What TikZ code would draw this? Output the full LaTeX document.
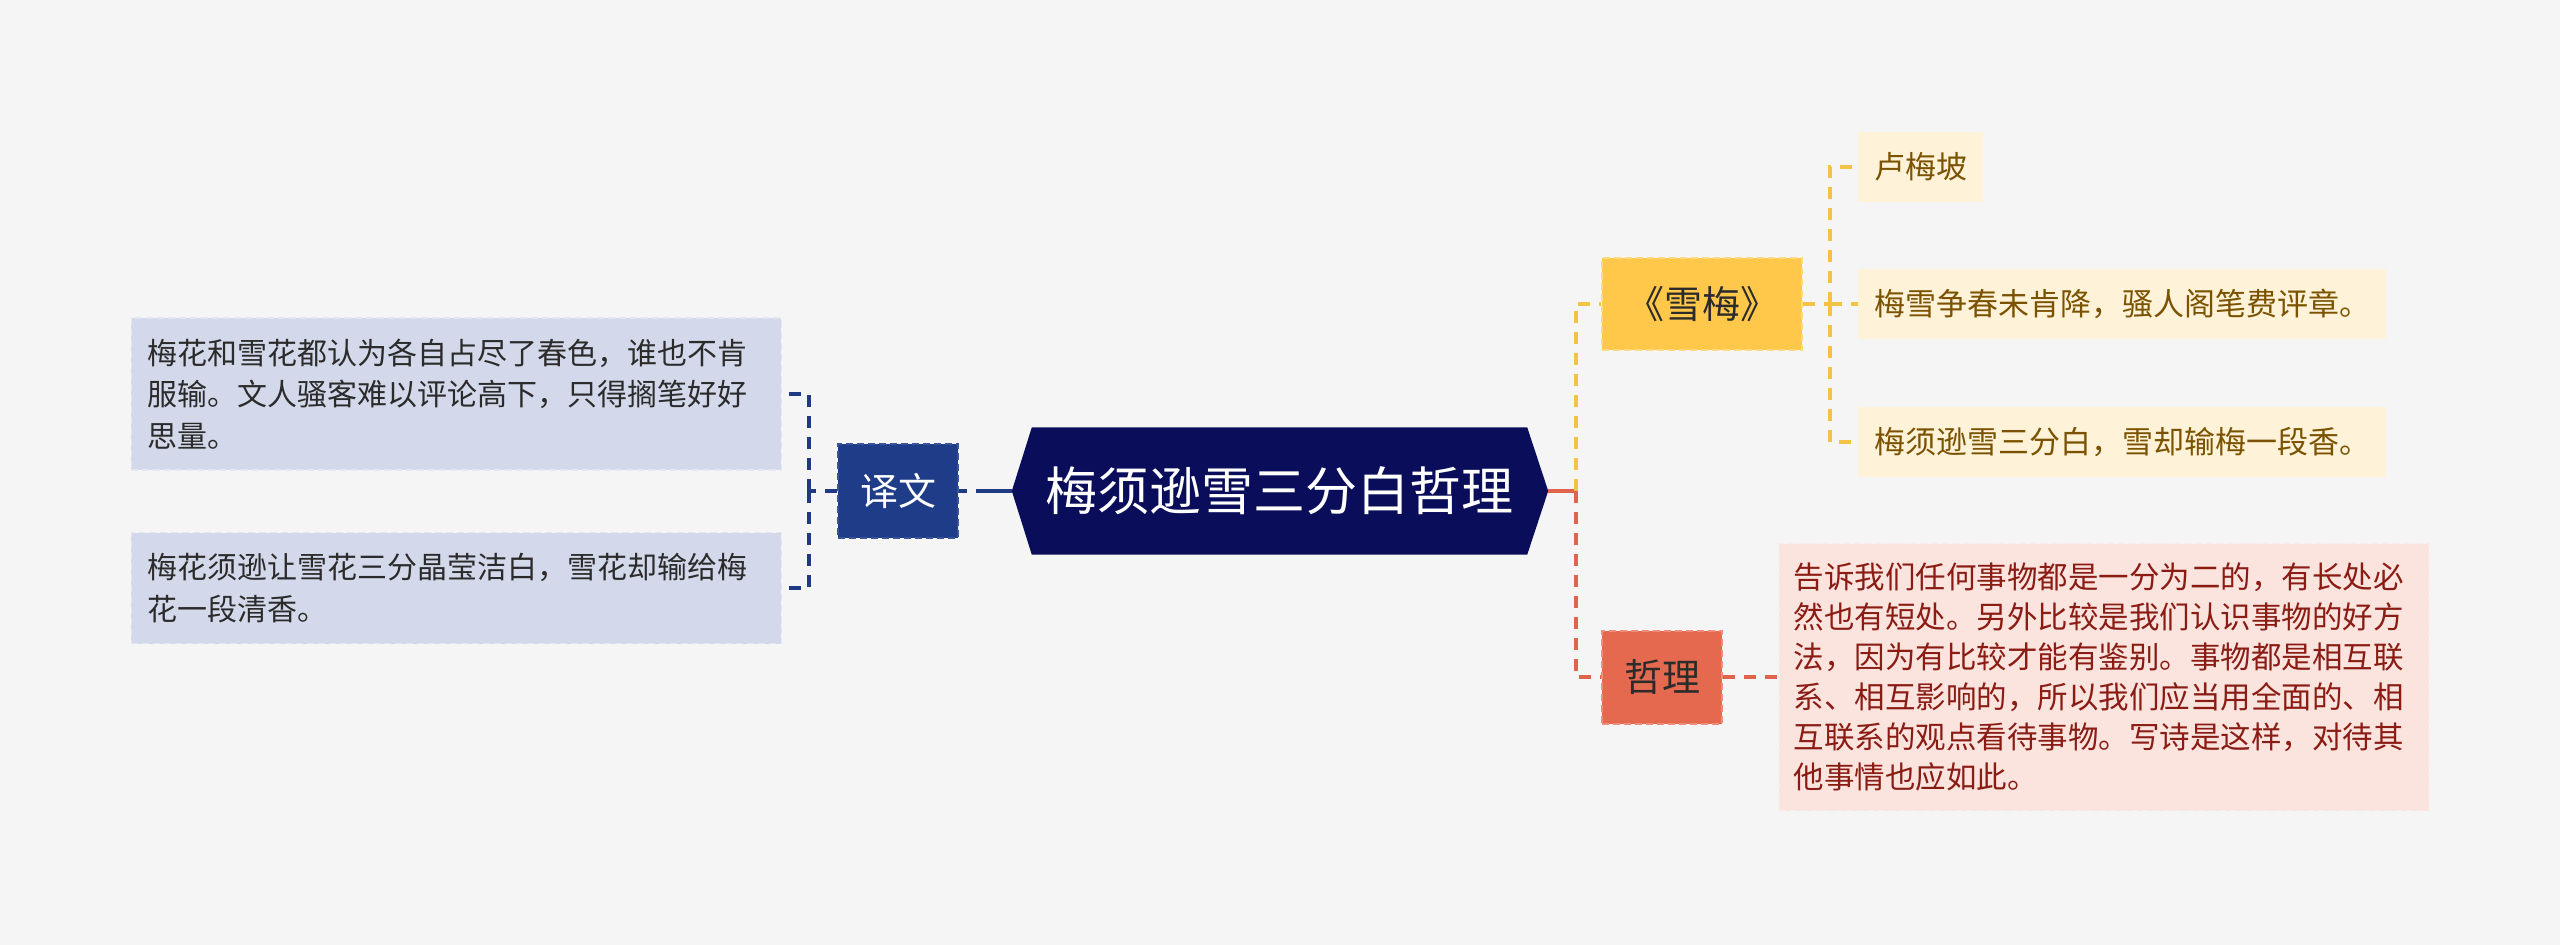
\documentclass[tikz,border=0pt]{standalone}
\usepackage{fontspec}
\setmainfont{Noto Sans CJK SC}
\usetikzlibrary{calc,backgrounds}
\definecolor{bgc}{HTML}{F5F5F5}
\definecolor{navy}{HTML}{0A0E5A}
\definecolor{ywfill}{HTML}{1F3C88}
\definecolor{ywborder}{HTML}{3A5499}
\definecolor{lbfill}{HTML}{D3D9EA}
\definecolor{lbborder}{HTML}{E3E7F1}
\definecolor{xmfill}{HTML}{FFC84A}
\definecolor{xmborder}{HTML}{FFDA80}
\definecolor{leaffill}{HTML}{FEF2D8}
\definecolor{leaftext}{HTML}{7B5300}
\definecolor{zlfill}{HTML}{E4694F}
\definecolor{zlborder}{HTML}{EE8E7A}
\definecolor{pinkfill}{HTML}{FBE3DE}
\definecolor{pinkborder}{HTML}{F8EDEA}
\definecolor{pinktext}{HTML}{8A1C14}
\definecolor{yline}{HTML}{F4C244}
\definecolor{rline}{HTML}{E0644C}
\definecolor{bline}{HTML}{1F3A80}
\definecolor{darktext}{HTML}{2B2B2B}
\begin{document}
\begin{tikzpicture}[x=1pt,y=-1pt,
  conn/.style={line width=3.5pt, dash pattern=on 12pt off 9pt},
  centralnode/.style={minimum width=495pt, minimum height=127pt, inner sep=0pt,
    text=white, font=\fontsize{52}{60}\selectfont},
  ywnode/.style={fill=ywfill, draw=ywborder, line width=2pt, dash pattern=on 7pt off 4pt,
    minimum width=120pt, minimum height=94pt, inner sep=0pt, text=white,
    font=\fontsize{38}{44}\selectfont},
  leftbox/.style={fill=lbfill, draw=lbborder, line width=1.5pt, dash pattern=on 7pt off 4pt,
    text width=618pt, inner xsep=16pt, inner ysep=0pt, align=left, text=darktext,
    font=\fontsize{30}{41.5}\selectfont},
  xmnode/.style={fill=xmfill, draw=xmborder, line width=2pt, dash pattern=on 7pt off 4pt,
    minimum width=200pt, minimum height=92pt, inner sep=0pt, text=darktext,
    font=\fontsize{38}{44}\selectfont},
  zlnode/.style={fill=zlfill, draw=zlborder, line width=2pt, dash pattern=on 7pt off 4pt,
    minimum width=120pt, minimum height=93pt, inner sep=0pt, text=darktext,
    font=\fontsize{38}{44}\selectfont},
  leafnode/.style={fill=leaffill, minimum height=70pt, inner xsep=16pt, inner ysep=0pt,
    text=leaftext, anchor=west, font=\fontsize{31}{40}\selectfont},
  pinkbox/.style={fill=pinkfill, draw=pinkborder, line width=1.5pt, dash pattern=on 7pt off 4pt,
    text width=620pt, inner xsep=15pt, inner ysep=0pt, align=left, text=pinktext,
    minimum height=267pt, anchor=west, font=\fontsize{30.5}{40}\selectfont}
]
\useasboundingbox (0,0) rectangle (2560,945);
% nodes
\node[centralnode] (c) at (1279.5,491) {梅须逊雪三分白哲理};
\node[ywnode] (yw) at (898,491) {译文};
\node[leftbox, minimum height=152pt, anchor=east] (lb1) at (782,394) {梅花和雪花都认为各自占尽了春色，谁也不肯\\服输。文人骚客难以评论高下，只得搁笔好好\\思量。};
\node[leftbox, minimum height=111pt, anchor=east] (lb2) at (782,588) {梅花须逊让雪花三分晶莹洁白，雪花却输给梅\\花一段清香。};
\node[xmnode] (xm) at (1702,304) {《雪梅》};
\node[zlnode] (zl) at (1662,677) {哲理};
\node[leafnode] (l1) at (1858,167) {卢梅坡};
\node[leafnode] (l2) at (1858,304) {梅雪争春未肯降，骚人阁笔费评章。};
\node[leafnode] (l3) at (1858,442) {梅须逊雪三分白，雪却输梅一段香。};
\node[pinkbox] (zt) at (1778,677) {告诉我们任何事物都是一分为二的，有长处必\\然也有短处。另外比较是我们认识事物的好方\\法，因为有比较才能有鉴别。事物都是相互联\\系、相互影响的，所以我们应当用全面的、相\\互联系的观点看待事物。写诗是这样，对待其\\他事情也应如此。};
% background and central hexagon
\begin{scope}[on background layer]
\fill[bgc] (0,0) rectangle (2560,945);
\fill[navy] (c.north west) -- (c.north east) -- ($(c.east)+(21,0)$) coordinate (cr)
  -- (c.south east) -- (c.south west) -- ($(c.west)+(-20,0)$) coordinate (cl) -- cycle;
% connectors
\draw[bline, line width=3.5pt, dash pattern=on 8pt off 9pt on 80pt] (yw.east) -- (cl);
\draw[bline, conn] (yw.west) -- ($(yw.west)+(-28,0)$) coordinate (lj);
\draw[bline, conn] (lj) |- (lb1.east);
\draw[bline, conn] (lj) |- (lb2.east);
\draw[rline, line width=3.5pt] (cr) -- ($(cr)+(28,0)$) coordinate (rj);
\draw[yline, conn] (rj) |- (xm.west);
\draw[rline, conn] (rj) |- (zl.west);
\draw[yline, conn] (xm.east) -- ($(xm.east)+(27,0)$) coordinate (yj);
\draw[yline, conn] (yj) |- (l1.west);
\draw[yline, conn] (yj) -- (l2.west);
\draw[yline, conn] (yj) |- (l3.west);
\draw[rline, conn] (zl.east) -- (zt.west);
\end{scope}
\end{tikzpicture}
\end{document}
